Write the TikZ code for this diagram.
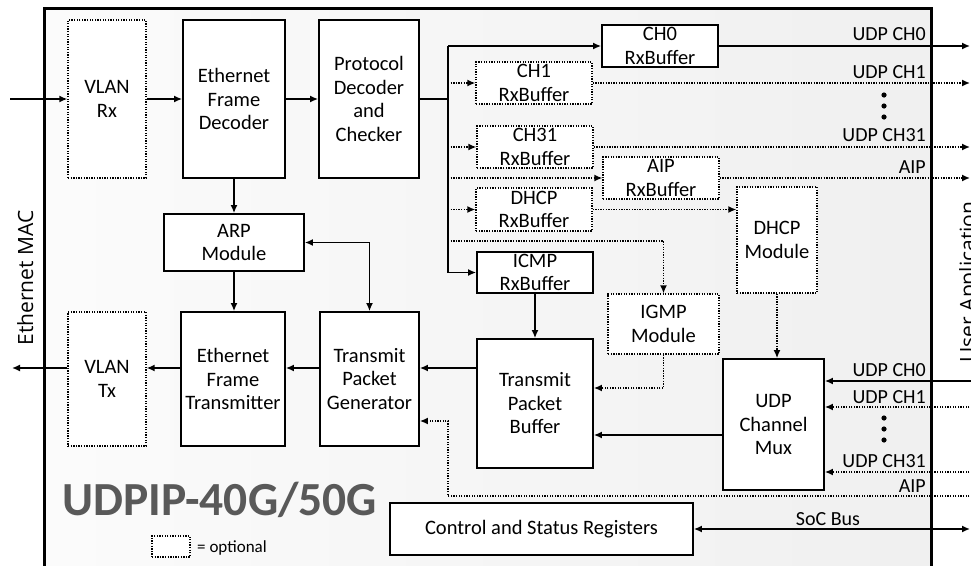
\documentclass[tikz,border=0pt]{standalone}
\usepackage{fontspec}
\setmainfont{Carlito}
\newfontfamily\sidefont{Open Sans}
\usetikzlibrary{arrows.meta}
\definecolor{titlegray}{RGB}{89,89,89}

\begin{document}
\begin{tikzpicture}[x=1pt, y=-1pt,
        blk/.style={draw, line width=1.8pt, fill=white, align=center, inner sep=0pt, font=\fontsize{20.5}{23.5}\selectfont},
        opt/.style={blk, line width=1.3pt, dash pattern=on 1.3pt off 1.3pt},
        ln/.style={line width=1.5pt, -{Latex[length=8pt,width=7pt]}},
        dln/.style={ln, dash pattern=on 1.3pt off 1.3pt},
        lbl/.style={anchor=base east, inner sep=0pt, font=\fontsize{20}{23.5}\selectfont}]
        \useasboundingbox (0,0) rectangle (971,565);
        \fill[left color=gray!3, right color=gray!12] (44,8) rectangle (931,575);
        \draw[line width=3pt] (44,575) -- (44,8) -- (931,8) -- (931,575);
        \node[rotate=90, anchor=base, inner sep=0pt, font=\sidefont\fontsize{21}{24}\selectfont] (mac) at (33,278) {Ethernet MAC};
        \node[rotate=90, anchor=base, inner sep=0pt, font=\sidefont\fontsize{21}{24}\selectfont] (app) at (975,282) {User Application};

        \node[opt, minimum width=78pt, minimum height=158pt] (vrx) at (107,99) {VLAN\\Rx};
        \node[blk, minimum width=102pt, minimum height=158pt] (efd) at (234,99) {Ethernet\\Frame\\Decoder};
        \node[blk, minimum width=100pt, minimum height=158pt] (pdc) at (369,99) {Protocol\\Decoder\\and\\Checker};
        \node[blk, minimum width=140pt, minimum height=57pt] (arp) at (234,242.5) {ARP\\Module};
        \node[opt, minimum width=78pt, minimum height=134pt] (vtx) at (107,379) {VLAN\\Tx};
        \node[blk, minimum width=104pt, minimum height=134pt] (eft) at (233,379) {Ethernet\\Frame\\Transmitter};
        \node[blk, minimum width=99pt, minimum height=134pt] (tpg) at (369.5,379) {Transmit\\Packet\\Generator};

        \node[blk, minimum width=116pt, minimum height=42pt] (ch0) at (660,46) {CH0\\RxBuffer};
        \node[opt, minimum width=116pt, minimum height=42pt] (ch1) at (534,83) {CH1\\RxBuffer};
        \node[opt, minimum width=116pt, minimum height=42pt] (ch31) at (535,147) {CH31\\RxBuffer};
        \node[opt, minimum width=116pt, minimum height=42pt] (aip) at (661,178) {AIP\\RxBuffer};
        \node[opt, minimum width=116pt, minimum height=43pt] (dhcprx) at (534,209.5) {DHCP\\RxBuffer};
        \node[opt, minimum width=80pt, minimum height=106pt] (dhcp) at (777,240) {DHCP\\Module};
        \node[blk, minimum width=116pt, minimum height=41pt] (icmp) at (535,272.5) {ICMP\\RxBuffer};
        \node[opt, minimum width=111pt, minimum height=60pt] (igmp) at (663.5,324) {IGMP\\Module};
        \node[blk, minimum width=116pt, minimum height=129pt] (tpb) at (535,403.5) {Transmit\\Packet\\Buffer};
        \node[blk, minimum width=101pt, minimum height=131pt] (mux) at (773.5,424.5) {UDP\\Channel\\Mux};
        \node[blk, minimum width=303pt, minimum height=52pt] (csr) at (541.5,529) {Control and Status Registers};

        \node[coordinate] (rxin) at (10,99) {};
        \node[coordinate] (txout) at (12,368) {};
        \node[coordinate] (busin) at (448,99) {};
        \node[coordinate] (bustop) at (448,46) {};
        \node[coordinate] (busbot) at (448,272.5) {};
        \node[coordinate] (igmpbr) at (448,241) {};
        \node[coordinate] (igmpdn) at (663.5,388) {};
        \node[coordinate] (muxout) at (723,435) {};
        \node[coordinate] (o0) at (970,46) {};
        \node[coordinate] (o1) at (970,83) {};
        \node[coordinate] (o31) at (970,147) {};
        \node[coordinate] (oaip) at (970,178) {};
        \node[coordinate] (i0) at (972,381) {};
        \node[coordinate] (i1) at (972,407) {};
        \node[coordinate] (i31) at (972,472) {};
        \node[coordinate] (aipin) at (972,496) {};
        \node[coordinate] (aipbr) at (448,496) {};
        \node[coordinate] (aipup) at (448,421) {};
        \node[coordinate] (soc) at (970,529) {};

        \draw[ln] (rxin) -- (vrx);
        \draw[ln] (vrx) -- (efd);
        \draw[ln] (efd) -- (pdc);
        \draw[line width=1.5pt] (pdc) -- (busin);
        \draw[line width=1.5pt] (bustop) -- (busbot);
        \draw[ln] (bustop) -- (ch0);
        \draw[dln] (bustop |- ch1) -- (ch1);
        \draw[dln] (bustop |- ch31) -- (ch31);
        \draw[dln] (bustop |- aip) -- (aip);
        \draw[dln] (bustop |- dhcprx) -- (dhcprx);
        \draw[ln] (busbot) -- (icmp);
        \draw[dln] (igmpbr) -| (igmp);
        \draw[ln] (ch0) -- (o0);
        \draw[dln] (ch1) -- (o1);
        \draw[dln] (ch31) -- (o31);
        \draw[dln] (aip) -- (oaip);
        \draw[dln] (dhcprx) -- (dhcprx -| dhcp.west);
        \draw[dln] (dhcp) -- (dhcp |- mux.north);
        \draw[ln] (efd) -- (arp);
        \draw[ln] (arp) -- (arp.south |- eft.north);
        \draw[ln, {Latex[length=8pt,width=7pt]}-{Latex[length=8pt,width=7pt]}] (arp.east) -| (tpg.north);
        \draw[ln] (tpg.west |- txout) -- (eft.east |- txout);
        \draw[ln] (eft.west |- txout) -- (vtx.east |- txout);
        \draw[ln] (vtx.west |- txout) -- (txout);
        \draw[ln] (tpb.west |- txout) -- (tpg.east |- txout);
        \draw[ln] (icmp) -- (tpb);
        \draw[dln] (igmp) -- (igmpdn) -- (igmpdn -| tpb.east);
        \draw[ln] (muxout) -- (muxout -| tpb.east);
        \draw[ln] (i0) -- (i0 -| mux.east);
        \draw[dln] (i1) -- (i1 -| mux.east);
        \draw[dln] (i31) -- (i31 -| mux.east);
        \draw[dln] (aipin) -- (aipbr) -- (aipup) -- (aipup -| tpg.east);
        \draw[ln, {Latex[length=8pt,width=7pt]}-{Latex[length=8pt,width=7pt]}] (csr) -- (soc);

        \node[lbl] (l0) at (926,40) {UDP CH0};
        \node[lbl] (l1) at (926,78) {UDP CH1};
        \node[lbl] (l31) at (926,141) {UDP CH31};
        \node[lbl] (laip) at (926,173) {AIP};
        \node[lbl] (m0) at (926,376) {UDP CH0};
        \node[lbl] (m1) at (926,403) {UDP CH1};
        \node[lbl] (m31) at (926,467) {UDP CH31};
        \node[lbl] (maip) at (926,492) {AIP};
        \node[lbl, anchor=base] (lsoc) at (828,525) {SoC Bus};
        \foreach \y in {95,106,117,418,429,440}
            \fill (884,\y) circle (2.6pt);

        \node[anchor=base west, inner sep=0pt, font=\fontsize{47.5}{50}\selectfont\bfseries, text=titlegray] (title) at (62,515) {UDPIP-40G/50G};
        \node[opt, minimum width=38pt, minimum height=21pt] (legend) at (171,546.5) {};
        \node[anchor=base west, inner sep=0pt, font=\fontsize{17}{19}\selectfont] (legendtxt) at (197,552) {= optional};
    \end{tikzpicture}
\end{document}
